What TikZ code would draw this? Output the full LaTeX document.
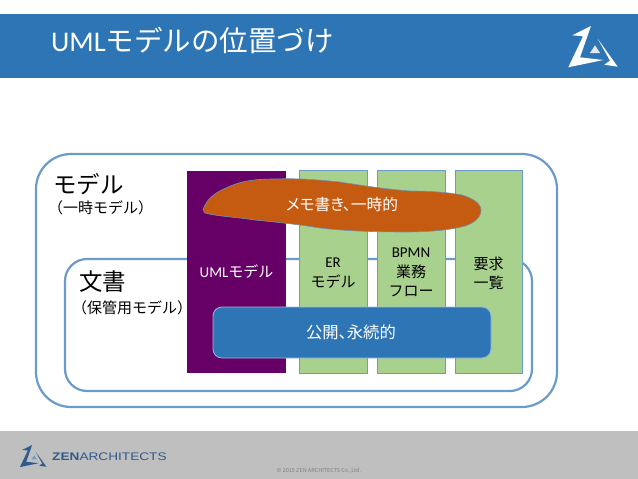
\documentclass[tikz,border=0pt]{standalone}
\usepackage{fontspec}
\setmainfont{Noto Sans CJK JP}
\newfontfamily\pf[RawFeature=+palt]{Noto Sans CJK JP}
\newfontfamily\lat{Carlito}
\newfontfamily\logofont{Liberation Sans}
\definecolor{hdr}{HTML}{2E75B6}
\definecolor{ftr}{HTML}{BFBFBF}
\definecolor{lineblue}{HTML}{6A9BCB}
\definecolor{purp}{HTML}{660066}
\definecolor{grn}{HTML}{A9D18E}
\definecolor{orng}{HTML}{C55A11}
\definecolor{navy}{HTML}{2F5A8C}
\tikzset{
  x=1pt,y=-1pt,
  frame/.style={draw=lineblue,line width=2.2pt,rounded corners=#1},
  colbox/.style={fill=grn,draw=lineblue,line width=0.7pt},
  wtext/.style={text=white,font=\fontsize{15}{18}\selectfont,align=center},
  ktext/.style={text=black,font=\fontsize{15}{19.5}\selectfont,align=center},
}
\newcommand{\zenlogo}[5]{%
  \begin{scope}[shift={(#1,#2)},scale=#3]
    \fill[#4] (4.3,9.3) -- (23,0) -- (12,31.3) -- (35.3,34) -- (0.3,41.3) -- (15,10.3) -- cycle;
    \fill[#4] (29.7,12.7) -- (49.7,40.7) -- (36.3,38.7) -- (42,34.7) -- cycle;
    \fill[#5] (22,27) -- (27,19.3) -- (32,27) -- cycle;
  \end{scope}}
\begin{document}
\begin{tikzpicture}
\useasboundingbox (0,0) rectangle (638,479);
\fill[white] (0,0) rectangle (638,479);
\fill[hdr] (0,14) rectangle (638,78);
\node[anchor=west,inner sep=0pt,text=white,font=\fontsize{28.5}{30}\selectfont] (title) at (51,41) {{\lat UML}モデルの位置づけ};
\zenlogo{568}{26}{1}{white}{white!85!hdr}
% frames
\draw[frame=35pt] (36,154) rectangle (557,407);
\draw[frame=22pt] (65,259) rectangle (532,391);
% columns
\fill[purp] (187,171) rectangle (286,373);
\node[wtext] (uml) at (236.5,272) {{\lat UML}モデル};
\draw[colbox] (299,170) rectangle (367,373);
\node[ktext] (er) at (333,273) {{\lat ER}\\モデル};
\draw[colbox] (377,170) rectangle (445,373);
\node[ktext] (bpmn) at (411,272.5) {{\lat BPMN}\\業務\\フロー};
\draw[colbox] (455,170) rectangle (522,373);
\node[ktext] (req) at (488.5,273.5) {要求\\一覧};
% labels
\node[anchor=west,inner sep=0pt,font=\fontsize{23.5}{26}\selectfont] (model) at (53,184) {モデル};
\node[anchor=west,inner sep=0pt,font=\fontsize{15}{17}\selectfont] (tmp) at (48,208) {（一時モデル）};
\node[anchor=west,inner sep=0pt,font=\fontsize{23.5}{26}\selectfont] (doc) at (79,282) {文書};
\node[anchor=west,inner sep=0pt,font=\fontsize{15}{17}\selectfont] (keep) at (72,308) {（保管用モデル）};
% blob
\draw[fill=orng,draw=lineblue!70!gray,line width=0.6pt]
  (203,210) .. controls (206,200) and (214,193) .. (226,188)
  .. controls (240,181) and (255,179) .. (275,179)
  .. controls (300,178) and (320,180) .. (340,182)
  .. controls (365,186) and (385,189) .. (410,191)
  .. controls (430,191) and (445,192) .. (462,195)
  .. controls (472,198) and (481,203) .. (481,210)
  .. controls (481,218) and (474,223) .. (465,226)
  .. controls (450,230) and (430,232) .. (405,232)
  .. controls (375,232) and (345,231) .. (320,228)
  .. controls (295,224) and (275,222) .. (255,220)
  .. controls (235,217) and (215,216) .. (205,213)
  -- cycle;
\node[wtext,font=\pf\fontsize{15.7}{18}\selectfont] (memo) at (342,205) {メモ書き、一時的};
% public box
\draw[fill=hdr,draw=lineblue!70!white,line width=0.8pt,rounded corners=9pt] (213,307) rectangle (491,358);
\node[wtext,font=\pf\fontsize{16.3}{18}\selectfont] (pub) at (351,332) {公開、永続的};
% footer
\fill[ftr] (0,431) rectangle (638,479);
\zenlogo{19.8}{445}{0.535}{navy}{hdr!70!white}
\node[anchor=west,inner sep=0pt,xscale=1.24,text=navy,font=\logofont\fontsize{11}{12}\selectfont] (zen) at (52,457) {\textbf{ZEN}ARCHITECTS};
\node[anchor=center,inner sep=0pt,text=black!50,font=\fontsize{5.5}{7}\selectfont] (copy) at (319,471) {© 2015 ZEN ARCHITECTS Co.,Ltd.};
\end{tikzpicture}
\end{document}
